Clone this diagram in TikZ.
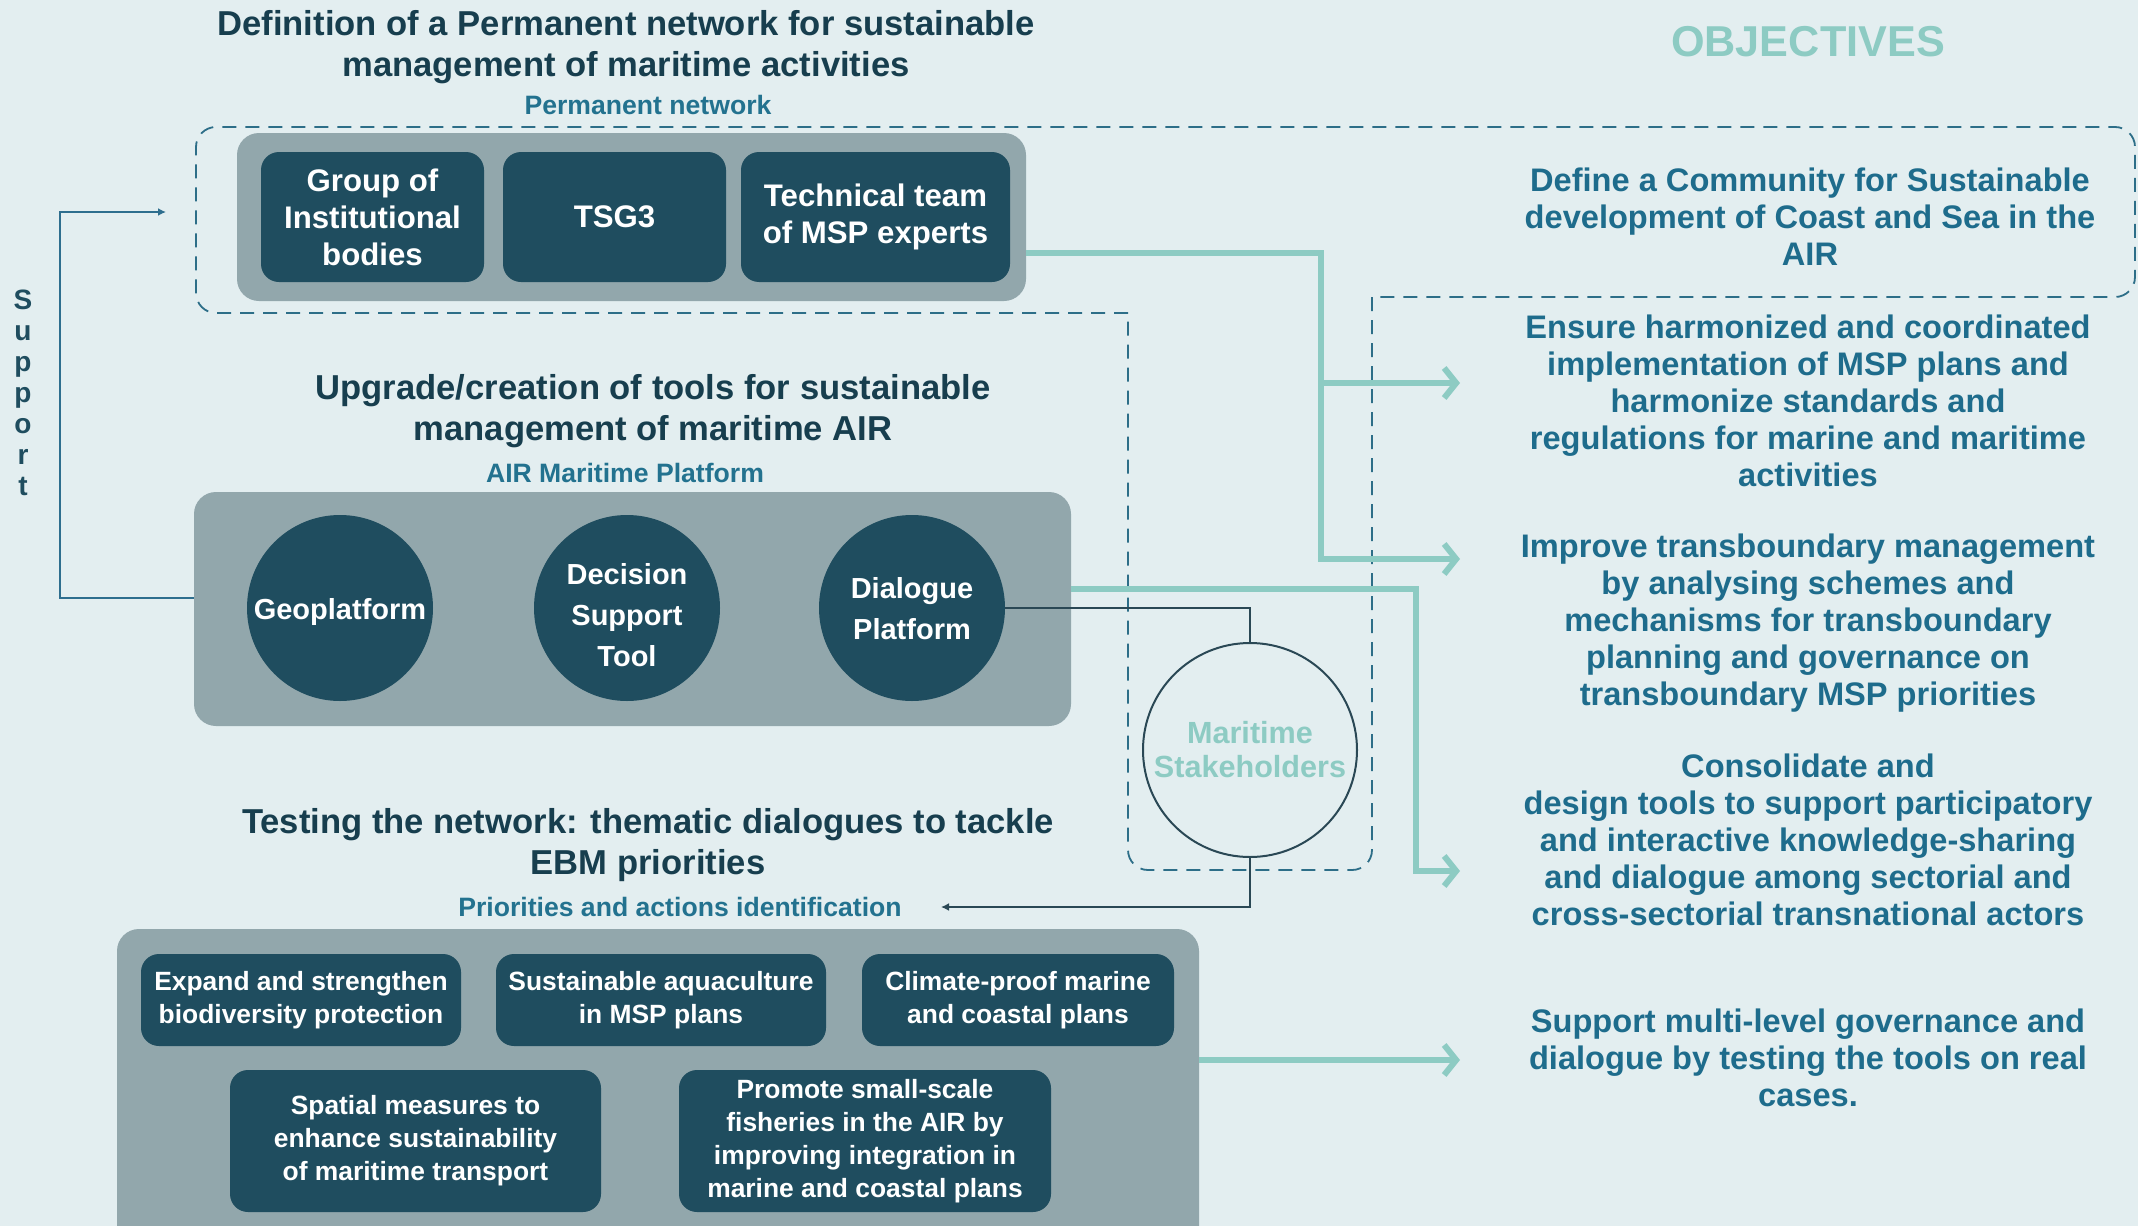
\documentclass[tikz,border=0pt]{standalone}
\usepackage{fontspec}
\setmainfont{Liberation Sans}
\usetikzlibrary{arrows.meta}
\definecolor{bgc}{HTML}{E3EEF0}
\definecolor{titlec}{HTML}{173E4E}
\definecolor{boxc}{HTML}{1F4D5F}
\definecolor{greyc}{HTML}{92A7AC}
\definecolor{subc}{HTML}{23728F}
\definecolor{objc}{HTML}{1E6C8C}
\definecolor{lteal}{HTML}{8DCBC3}
\definecolor{dashc}{HTML}{2D6E88}
\definecolor{supc}{HTML}{2E6E8E}
\definecolor{darkline}{HTML}{2A4855}
\tikzset{
  titletext/.style={font=\bfseries\fontsize{17.3}{20.5}\selectfont, text=titlec, align=center, inner sep=0pt},
  subtext/.style={font=\bfseries\fontsize{13.3}{16}\selectfont, text=subc, inner sep=0pt},
  objtext/.style={font=\bfseries\fontsize{16.3}{18.5}\selectfont, text=objc, align=center, inner sep=0pt},
  container/.style={fill=greyc, rounded corners=11pt, inner sep=0pt},
  darkbox/.style={fill=boxc, rounded corners=9pt, text=white, align=center, inner sep=0pt,
     font=\bfseries\fontsize{15.6}{18.5}\selectfont},
  rowbox/.style={fill=boxc, rounded corners=9pt, text=white, align=center, inner sep=0pt,
     font=\bfseries\fontsize{13.2}{16.5}\selectfont},
  toolcirc/.style={circle, fill=boxc, inner sep=0pt, minimum size=93pt},
  circtext/.style={text=white, align=center, inner sep=0pt, font=\bfseries\fontsize{14.5}{20.5}\selectfont},
  tealarrow/.style={draw=lteal, line width=3pt, -{Straight Barb[length=6pt,width=15pt]}},
  thinarrow/.style={line width=0.9pt, -{Latex[length=4pt,width=4pt]}},
  dashline/.style={draw=dashc, line width=0.9pt, dash pattern=on 7pt off 4.5pt, rounded corners=10pt},
}
\begin{document}
\begin{tikzpicture}[x=0.5pt,y=-0.5pt]
\useasboundingbox (0,0) rectangle (2138,1226);
\fill[bgc] (0,0) rectangle (2138,1226);
\clip (0,0) rectangle (2138,1226);

% dashed outline
\draw[dashline] (1128,313) -- (196,313) -- (196,127) -- (2135,127) -- (2135,297) -- (1372,297);
\draw[dashline] (1372,297) -- (1372,870) -- (1128,870) -- (1128,313);

% titles
\node[titletext] (t1) at (626,47) {Definition of a Permanent network for sustainable\\management of maritime activities};
\node[subtext] (s1) at (648,105) {Permanent network};
\node[titletext] (t2) at (653,411) {Upgrade/creation of tools for sustainable\\management of maritime AIR};
\node[subtext] (s2) at (625,473) {AIR Maritime Platform};
\node[titletext] (t3) at (648,845) {Testing the network: thematic dialogues to tackle\\EBM priorities};
\node[subtext] (s3) at (680,907) {Priorities and actions identification};

% permanent network
\node[container, minimum width=394.5pt, minimum height=84pt] (g1) at (631.5,217) {};
\node[darkbox, minimum width=111.5pt, minimum height=65pt] (gib) at (372.5,217) {Group of\\Institutional\\bodies};
\node[darkbox, minimum width=111.5pt, minimum height=65pt] (tsg) at (614.5,217) {TSG3};
\node[darkbox, minimum width=134.5pt, minimum height=65pt] (tech) at (875.5,217) {Technical team\\of MSP experts};

% platform
\node[container, minimum width=438.5pt, minimum height=117pt] (g2) at (632.5,609) {};
\node[toolcirc] (geo) at (340,608) {};
\node[toolcirc] (dst) at (627,608) {};
\node[toolcirc] (dial) at (912,608) {};
\node[circtext] (geot) at (340,612) {Geoplatform};
\node[circtext] (dstt) at (627,615) {Decision\\Support\\Tool};
\node[circtext] (dialt) at (912,609) {Dialogue\\Platform};

% testing
\node[container, minimum width=541pt, minimum height=165.5pt] (g3) at (658,1094.5) {};
\node[rowbox, minimum width=160pt, minimum height=46pt] (ra) at (301,1000) {Expand and strengthen\\biodiversity protection};
\node[rowbox, minimum width=165pt, minimum height=46pt] (rb) at (661,1000) {Sustainable aquaculture\\in MSP plans};
\node[rowbox, minimum width=156pt, minimum height=46pt] (rc) at (1018,1000) {Climate-proof marine\\and coastal plans};
\node[rowbox, minimum width=185.5pt, minimum height=71pt] (rd) at (415.5,1141) {Spatial measures to\\enhance sustainability\\of maritime transport};
\node[rowbox, minimum width=186pt, minimum height=71pt] (re) at (865,1141) {Promote small-scale\\fisheries in the AIR by\\improving integration in\\marine and coastal plans};

% stakeholders
\node[circle, draw=darkline, line width=1pt, minimum size=107pt, inner sep=0pt, align=center,
  text=lteal, font=\bfseries\fontsize{15.3}{17}\selectfont] (stake) at (1250,750) {Maritime\\Stakeholders};

% support
\node[text=boxc, align=center, inner sep=0pt, font=\bfseries\fontsize{14}{15.5}\selectfont] (sup) at (23,393) {S\\u\\p\\p\\o\\r\\t};

% objectives
\node[font=\bfseries\fontsize{21.6}{24}\selectfont, text=lteal, inner sep=0pt] (objh) at (1808,42) {OBJECTIVES};
\node[objtext] (o1) at (1810,217) {Define a Community for Sustainable\\development of Coast and Sea in the\\AIR};
\node[objtext] (o2) at (1808,401) {Ensure harmonized and coordinated\\implementation of MSP plans and\\harmonize standards and\\regulations for marine and maritime\\activities};
\node[objtext] (o3) at (1808,623) {Improve transboundary management\\by analysing schemes and\\mechanisms for transboundary\\planning and governance on\\transboundary MSP priorities};
\node[objtext] (o4) at (1808,840) {Consolidate and\\design tools to support participatory\\and interactive knowledge-sharing\\and dialogue among sectorial and\\cross-sectorial transnational actors};
\node[objtext] (o5) at (1808,1058) {Support multi-level governance and\\dialogue by testing the tools on real\\cases.};

% connector coordinates
\coordinate (c1) at (1321,253);
\coordinate (a2) at (1460,383);
\coordinate (a3) at (1460,559);
\coordinate (c2) at (1416,589);
\coordinate (a4) at (1460,871);
\coordinate (a5) at (1460,1060);
\coordinate (sp1) at (60,598);
\coordinate (sp2) at (166,212);
\coordinate (pr) at (941,907);

% teal connectors
\draw[tealarrow] (g1.east |- c1) -- (c1) -- (c1 |- a3) -- (a3);
\draw[tealarrow] (c1 |- a2) -- (a2);
\draw[tealarrow] (g2.east |- c2) -- (c2) -- (c2 |- a4) -- (a4);
\draw[tealarrow] (g3.east |- a5) -- (a5);

% support connector
\draw[thinarrow, draw=supc] (g2.west |- sp1) -- (sp1) -- (sp1 |- sp2) -- (sp2);

% stakeholder connectors
\draw[draw=darkline, line width=1pt] (dial.east) -| (stake.north);
\draw[thinarrow, draw=darkline] (stake.south) |- (pr);
\end{tikzpicture}
\end{document}
